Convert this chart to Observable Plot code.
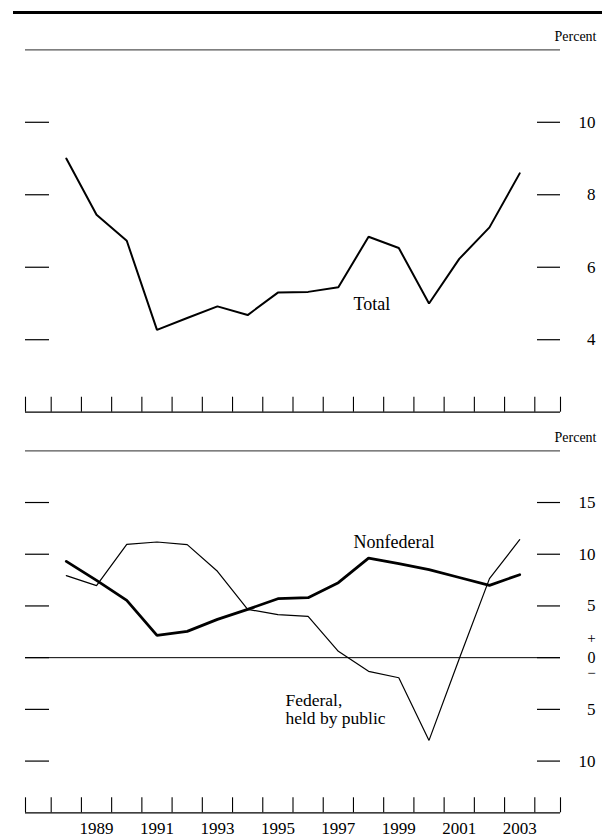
<!DOCTYPE html>
<html>
<head>
<meta charset="utf-8">
<script src="https://cdn.jsdelivr.net/npm/d3@7"></script>
<script src="https://cdn.jsdelivr.net/npm/@observablehq/plot@0.6"></script>
<style>
  html, body { margin: 0; padding: 0; background: #fff; }
  #chart { position: relative; width: 602px; height: 838px; font-family: "Liberation Serif", "Times New Roman", serif; }
  #chart .rule-top { position: absolute; left: 13px; top: 11px; width: 589px; height: 3px; background: #000; }
  #chart svg { display: block; position: absolute; left: 0; }
</style>
</head>
<body>
<div id="chart"><div class="rule-top"></div></div>
<script>
// Years (plotted at mid-year)
const years = [1988, 1989, 1990, 1991, 1992, 1993, 1994, 1995, 1996, 1997, 1998, 1999, 2000, 2001, 2002, 2003];

// Growth of debt, percent
const total      = [9.0, 7.45, 6.73, 4.27, 4.6, 4.92, 4.68, 5.30, 5.32, 5.45, 6.84, 6.53, 5.0, 6.23, 7.10, 8.59];
const nonfederal = [9.31, 7.47, 5.54, 2.16, 2.54, 3.70, 4.67, 5.70, 5.80, 7.25, 9.63, 9.09, 8.51, 7.75, 6.99, 8.02];
const federal    = [7.93, 6.96, 10.96, 11.18, 10.93, 8.35, 4.67, 4.16, 4.0, 0.61, -1.32, -1.94, -8.0, -0.1, 7.64, 11.41];

// Axis ticks and labels
const yearTicks = d3.range(1988, 2005);
const yearLabels = [1989, 1991, 1993, 1995, 1997, 1999, 2001, 2003];
const topTicks = [10, 8, 6, 4];
const bottomTicks = [15, 10, 5, 0, -5, -10];

const xDomain = [1987.15, 2004.85];
const font = `"Liberation Serif", "Times New Roman", serif`;

const totalRows = years.map((y, i) => ({year: y + 0.5, value: total[i]}));
const nonfedRows = years.map((y, i) => ({year: y + 0.5, value: nonfederal[i]}));
const fedRows = years.map((y, i) => ({year: y + 0.5, value: federal[i]}));

function frameMarks(yDomain, ticks) {
  const [yMin, yMax] = yDomain;
  return [
    // top hairline under "Percent"
    Plot.ruleY([yMax], {stroke: "#555", strokeWidth: 1.3}),
    Plot.text(["Percent"], {x: xDomain[1], y: yMax, dx: 36, dy: -9, textAnchor: "end", lineAnchor: "bottom", fontSize: 14}),
    // baseline with year ticks
    Plot.ruleY([yMin], {stroke: "#000", strokeWidth: 1.2}),
    Plot.ruleX(yearTicks.concat(xDomain), {x: d => d, y1: yMin, y2: yMin, insetBottom: 15, stroke: "#000", strokeWidth: 1.1}),
    // value dashes on both sides
    Plot.ruleY(ticks, {y: d => d, x1: xDomain[0], x2: xDomain[0], insetRight: -24, stroke: "#000", strokeWidth: 1.2}),
    Plot.ruleY(ticks, {y: d => d, x1: xDomain[1], x2: xDomain[1], insetLeft: -23, stroke: "#000", strokeWidth: 1.2})
  ];
}

const topPanel = Plot.plot({
  width: 602,
  height: 425,
  marginTop: 49.3,
  marginBottom: 13.3,
  marginLeft: 25,
  marginRight: 42,
  style: {fontFamily: font, color: "#000", background: "transparent"},
  x: {domain: xDomain, axis: null},
  y: {domain: [2, 12], axis: null},
  marks: [
    ...frameMarks([2, 12], topTicks),
    Plot.text(topTicks, {x: xDomain[1], y: d => d, text: d => String(d), dx: 35, textAnchor: "end", lineAnchor: "middle", fontSize: 17}),
    Plot.line(totalRows, {x: "year", y: "value", stroke: "#000", strokeWidth: 2, strokeLinejoin: "miter"}),
    Plot.text(["Total"], {x: 1998.0, y: 4.83, textAnchor: "start", lineAnchor: "bottom", fontSize: 18})
  ]
});
topPanel.style.top = "0px";

const bottomPanel = Plot.plot({
  width: 602,
  height: 413,
  marginTop: 25.3,
  marginBottom: 25.7,
  marginLeft: 25,
  marginRight: 42,
  style: {fontFamily: font, color: "#000", background: "transparent"},
  x: {domain: xDomain, axis: null},
  y: {domain: [-15, 20], axis: null},
  marks: [
    ...frameMarks([-15, 20], bottomTicks),
    Plot.text(bottomTicks.filter(d => d !== 0), {x: xDomain[1], y: d => d, text: d => String(Math.abs(d)), dx: 35, textAnchor: "end", lineAnchor: "middle", fontSize: 17}),
    // zero line with sign markers
    Plot.ruleY([0], {stroke: "#000", strokeWidth: 1}),
    Plot.text(["0"], {x: xDomain[1], y: 0, dx: 31, textAnchor: "middle", lineAnchor: "middle", fontSize: 16}),
    Plot.text(["+"], {x: xDomain[1], y: 0, dx: 31, dy: -19, textAnchor: "middle", lineAnchor: "middle", fontSize: 15}),
    Plot.text(["\u2212"], {x: xDomain[1], y: 0, dx: 31, dy: 16, textAnchor: "middle", lineAnchor: "middle", fontSize: 15}),
    // year labels
    Plot.text(yearLabels, {x: d => d + 0.5, y: -15, text: d => String(d), dy: 16, textAnchor: "middle", lineAnchor: "middle", fontSize: 17}),
    Plot.line(fedRows, {x: "year", y: "value", stroke: "#000", strokeWidth: 1.2, strokeLinejoin: "miter"}),
    Plot.line(nonfedRows, {x: "year", y: "value", stroke: "#000", strokeWidth: 2.8, strokeLinejoin: "miter"}),
    Plot.text(["Nonfederal"], {x: 1998.0, y: 10.57, textAnchor: "start", lineAnchor: "bottom", fontSize: 18}),
    Plot.text(["Federal,\nheld by public"], {x: 1995.75, y: -4.61, textAnchor: "start", lineAnchor: "top", dy: -13, fontSize: 17.5, lineHeight: 1.06})
  ]
});
bottomPanel.style.top = "425px";

const chart = document.getElementById("chart");
chart.appendChild(topPanel);
chart.appendChild(bottomPanel);
</script>
</body>
</html>
